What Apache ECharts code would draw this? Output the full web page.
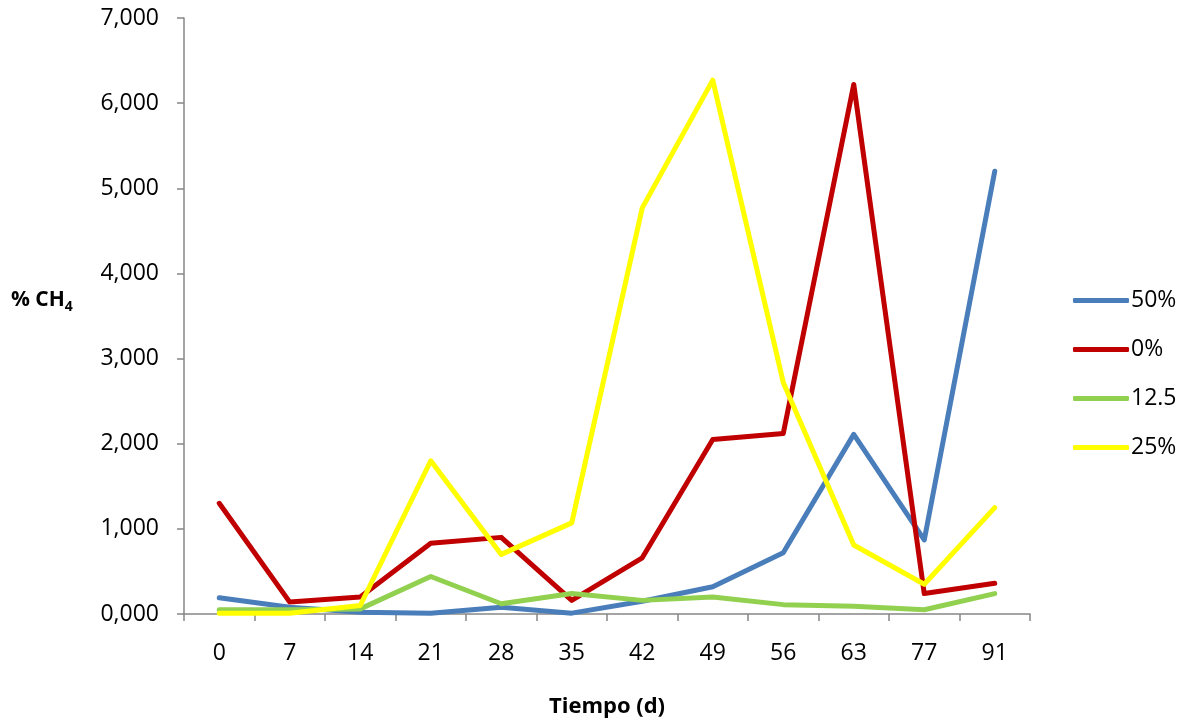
<!DOCTYPE html>
<html><head><meta charset="utf-8">
<script src="https://cdn.jsdelivr.net/npm/echarts@6/dist/echarts.min.js"></script>
<style>html,body{margin:0;padding:0;background:#fff}#c{width:1184px;height:723px}</style>
</head><body><div id="c"></div>
<script>
const categories = ['0','7','14','21','28','35','42','49','56','63','77','91'];
const s50 = [0.19,0.08,0.02,0.01,0.08,0.01,0.15,0.32,0.72,2.11,0.87,5.20];
const s0 = [1.30,0.14,0.20,0.83,0.90,0.16,0.66,2.05,2.12,6.22,0.24,0.36];
const s125 = [0.05,0.05,0.06,0.44,0.12,0.24,0.16,0.20,0.11,0.09,0.05,0.24];
const s25 = [0.01,0.01,0.10,1.80,0.70,1.07,4.77,6.27,2.72,0.81,0.35,1.25];
const names = ['50%','0%','12.5','25%'];
const colors = ['#4A7EBB','#C00000','#92D050','#FFFF00'];
const font = 'Open Sans';
const chart = echarts.init(document.getElementById('c'));
const mk = (name, data, color) => ({
  name, type:'line', data, symbol:'none', smooth:false,
  lineStyle:{width:5, color, cap:'round', join:'round'}, itemStyle:{color}
});
chart.setOption({
  animation:false,
  grid:{left:184,right:154,top:18,bottom:109,containLabel:false,outerBoundsMode:'none'},
  legend:{orient:'vertical', left:1068, top:284, itemWidth:56, itemHeight:5, itemGap:26,
    icon:'roundRect',
    textStyle:{fontFamily:font,fontSize:23,color:'#000',padding:[0,0,0,-3]},
    data:names},
  xAxis:{type:'category', data:categories, boundaryGap:true,
    axisLine:{lineStyle:{color:'#868686',width:1.5}},
    axisTick:{show:true, length:7, interval:0, lineStyle:{color:'#868686',width:1.5}},
    axisLabel:{fontFamily:font,fontSize:23,color:'#000',margin:28},
    name:'Tiempo (d)', nameLocation:'middle', nameGap:82,
    nameTextStyle:{fontFamily:font,fontSize:22,fontWeight:'bold',color:'#000'}},
  yAxis:{type:'value', min:0, max:7, interval:1,
    axisLine:{show:true,lineStyle:{color:'#868686',width:1.5}},
    axisTick:{show:true,length:7,lineStyle:{color:'#868686',width:1.5}},
    splitLine:{show:false},
    axisLabel:{fontFamily:font,fontSize:23,color:'#000',margin:25,
      formatter:v=>v.toFixed(3).replace('.',',')}},
  graphic:[{type:'text', left:11, top:290,
    style:{text:'{a|% CH}{b|4}', rich:{
      a:{fontFamily:font,fontSize:21,fontWeight:'bold',fill:'#000'},
      b:{fontFamily:font,fontSize:14,fontWeight:'bold',fill:'#000',padding:[14,0,0,0]}}}}],
  series:[mk(names[0],s50,colors[0]),mk(names[1],s0,colors[1]),mk(names[2],s125,colors[2]),mk(names[3],s25,colors[3])]
});
</script></body></html>
